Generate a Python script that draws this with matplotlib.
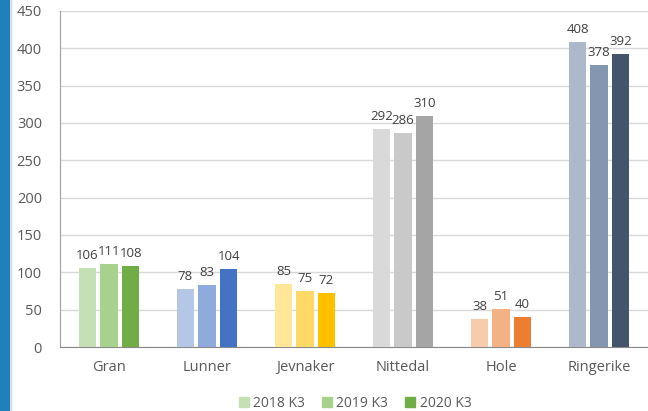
import numpy as np
import matplotlib.pyplot as plt
from matplotlib.patches import Rectangle, Patch

# data
kommuner = ["Gran", "Lunner", "Jevnaker", "Nittedal", "Hole", "Ringerike"]
aar = ["2018 K3", "2019 K3", "2020 K3"]
v2018 = [106, 78, 85, 292, 38, 408]
v2019 = [111, 83, 75, 286, 51, 378]
v2020 = [108, 104, 72, 310, 40, 392]

# one colour family per municipality
farger = [
    ["#C5E0B4", "#A9D18E", "#70AD47"],
    ["#B4C7E7", "#8FAADC", "#4472C4"],
    ["#FFE699", "#FFD966", "#FFC000"],
    ["#D9D9D9", "#C9C9C9", "#A5A5A5"],
    ["#F8CBAD", "#F4B183", "#ED7D31"],
    ["#ADB9CA", "#8497B0", "#44546A"],
]

plt.rcParams["font.family"] = ["Open Sans", "DejaVu Sans"]

fig = plt.figure(figsize=(6.48, 4.11), dpi=100)
# blue stripe on the left edge
fig.patches.append(Rectangle((0, 0), 9 / 648, 1, transform=fig.transFigure,
                             color="#1F80BE", zorder=0))
fig.add_artist(plt.Line2D([10.5 / 648, 10.5 / 648], [0, 1], transform=fig.transFigure,
                          color="#DADADA", lw=1))

ax = fig.add_axes([60 / 648, 64 / 411, 588 / 648, 336 / 411])

x = np.arange(len(kommuner))
bw = 0.175
step = 0.22
serier = [v2018, v2019, v2020]
for i, vals in enumerate(serier):
    pos = x + (i - 1) * step
    cols = [farger[k][i] for k in range(len(kommuner))]
    ax.bar(pos, vals, width=bw, color=cols, zorder=3)
    for p, v in zip(pos, vals):
        ax.text(p, v + 8, str(v), ha="center", va="bottom", fontsize=9.5, color="#404040")

ax.set_xlim(-0.5, len(kommuner) - 0.5)
ax.set_ylim(0, 450)
ax.set_yticks(range(0, 451, 50))
ax.set_xticks(x)
ax.set_xticklabels(kommuner)
ax.tick_params(axis="both", length=0, labelsize=10.5, colors="#595959")
ax.tick_params(axis="x", pad=9)
ax.tick_params(axis="y", pad=13)
ax.grid(axis="y", color="#D9D9D9", lw=1, zorder=0)
for s in ["top", "right"]:
    ax.spines[s].set_visible(False)
ax.spines["left"].set_color("#A0A0A0")
ax.spines["bottom"].set_color("#898989")

handles = [Patch(color=farger[0][i], label=aar[i]) for i in range(3)]
fig.legend(handles=handles, loc="center", bbox_to_anchor=(355 / 648, 1 - 403 / 411),
           ncol=3, frameon=False, fontsize=10, handlelength=0.75, handleheight=0.75,
           handletextpad=0.3, columnspacing=1.2, labelcolor="#595959")

fig.savefig("out.png", dpi=100)
